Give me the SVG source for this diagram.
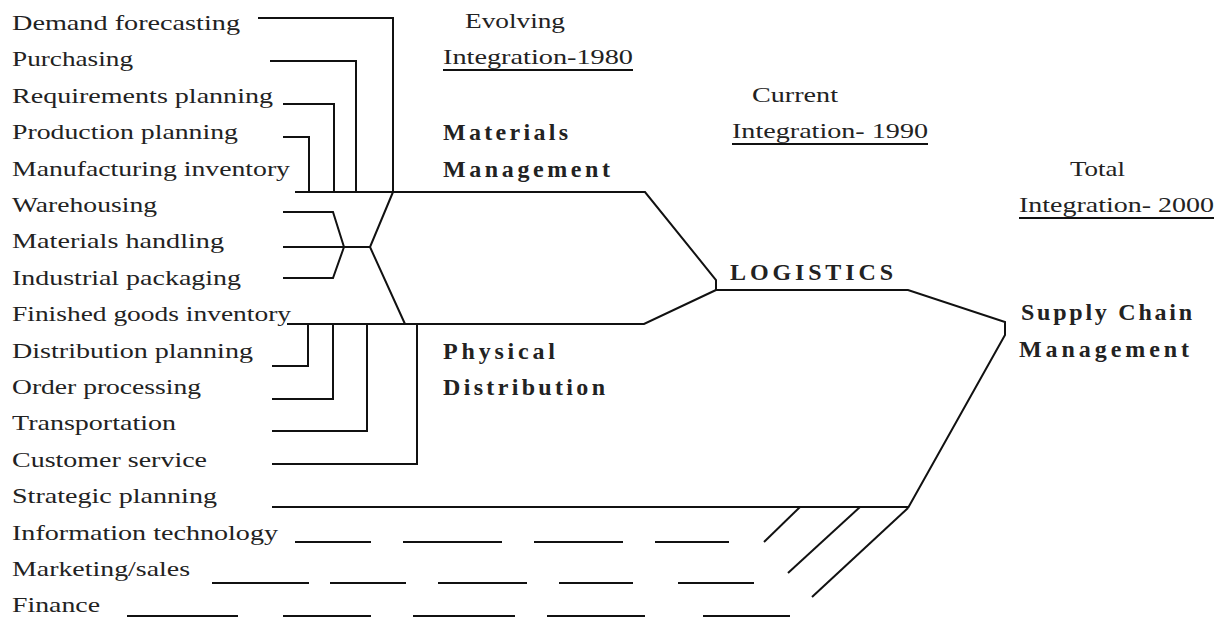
<svg xmlns="http://www.w3.org/2000/svg" width="1226" height="618" viewBox="0 0 1226 618">
<style>
.t{font-family:"Liberation Serif","Times New Roman",serif;font-size:21px;fill:#222}
.b{font-family:"Liberation Serif","Times New Roman",serif;font-size:24px;font-weight:bold;fill:#222}
.c{fill:none;stroke:#111;stroke-width:2}
</style>
<rect width="1226" height="618" fill="#fff"/>
<g id="labels">
<text class="t" x="12" y="30" textLength="228" lengthAdjust="spacingAndGlyphs">Demand forecasting</text>
<text class="t" x="12" y="66.4" textLength="121" lengthAdjust="spacingAndGlyphs">Purchasing</text>
<text class="t" x="12" y="102.8" textLength="261" lengthAdjust="spacingAndGlyphs">Requirements planning</text>
<text class="t" x="12" y="139.2" textLength="226" lengthAdjust="spacingAndGlyphs">Production planning</text>
<text class="t" x="12" y="175.6" textLength="278" lengthAdjust="spacingAndGlyphs">Manufacturing inventory</text>
<text class="t" x="12" y="212" textLength="145" lengthAdjust="spacingAndGlyphs">Warehousing</text>
<text class="t" x="12" y="248.4" textLength="212" lengthAdjust="spacingAndGlyphs">Materials handling</text>
<text class="t" x="12" y="284.8" textLength="229" lengthAdjust="spacingAndGlyphs">Industrial packaging</text>
<text class="t" x="12" y="321.2" textLength="279" lengthAdjust="spacingAndGlyphs">Finished goods inventory</text>
<text class="t" x="12" y="357.6" textLength="241" lengthAdjust="spacingAndGlyphs">Distribution planning</text>
<text class="t" x="12" y="394" textLength="189" lengthAdjust="spacingAndGlyphs">Order processing</text>
<text class="t" x="12" y="430.4" textLength="164" lengthAdjust="spacingAndGlyphs">Transportation</text>
<text class="t" x="12" y="466.8" textLength="195" lengthAdjust="spacingAndGlyphs">Customer service</text>
<text class="t" x="12" y="503.2" textLength="205" lengthAdjust="spacingAndGlyphs">Strategic planning</text>
<text class="t" x="12" y="539.6" textLength="266" lengthAdjust="spacingAndGlyphs">Information technology</text>
<text class="t" x="12" y="576" textLength="178" lengthAdjust="spacingAndGlyphs">Marketing/sales</text>
<text class="t" x="12" y="612.4" textLength="88" lengthAdjust="spacingAndGlyphs">Finance</text>
</g>
<g id="eras">
<text class="t" x="465" y="28" textLength="100" lengthAdjust="spacingAndGlyphs">Evolving</text>
<text class="t" x="443" y="64" textLength="190" lengthAdjust="spacingAndGlyphs">Integration-1980</text>
<line class="c" x1="443" y1="70" x2="633" y2="70" stroke-width="1.5"/>
<text class="t" x="752" y="102" textLength="86" lengthAdjust="spacingAndGlyphs">Current</text>
<text class="t" x="732" y="138" textLength="196" lengthAdjust="spacingAndGlyphs">Integration- 1990</text>
<line class="c" x1="732" y1="144" x2="928" y2="144" stroke-width="1.5"/>
<text class="t" x="1070" y="176" textLength="55" lengthAdjust="spacingAndGlyphs">Total</text>
<text class="t" x="1019" y="212" textLength="195" lengthAdjust="spacingAndGlyphs">Integration- 2000</text>
<line class="c" x1="1019" y1="218" x2="1214" y2="218" stroke-width="1.5"/>
</g>
<g id="materials-management">
<text class="b" x="443" y="140" textLength="125" lengthAdjust="spacing">Materials</text>
<text class="b" x="443" y="177" textLength="167" lengthAdjust="spacing">Management</text>
</g>
<g id="physical-distribution">
<text class="b" x="443" y="359" textLength="112" lengthAdjust="spacing">Physical</text>
<text class="b" x="443" y="395" textLength="162" lengthAdjust="spacing">Distribution</text>
</g>
<g id="logistics">
<text class="b" x="730" y="280" textLength="163" lengthAdjust="spacing">LOGISTICS</text>
</g>
<g id="supply-chain-management">
<text class="b" x="1021" y="320" textLength="171" lengthAdjust="spacing">Supply Chain</text>
<text class="b" x="1019" y="357" textLength="170" lengthAdjust="spacing">Management</text>
</g>
<g id="connectors" class="c">
<polyline points="258,18 393,18 393,192"/>
<polyline points="270,61 356,61 356,192"/>
<polyline points="283,104 334,104 334,192"/>
<polyline points="283,137 309,137 309,192"/>
<polyline points="295,192 645,192 716,280 716,290 908,290 1005,322 1005,335 908,508"/>
<polyline points="287,324 644,324 716,290"/>
<polyline points="393,192 370,247 405,324"/>
<polyline points="283,212 333,212 344,247 333,278 283,278"/>
<line x1="283" y1="247" x2="370" y2="247"/>
<polyline points="272,366 308,366 308,324"/>
<polyline points="272,399 333,399 333,324"/>
<polyline points="272,431 367,431 367,324"/>
<polyline points="272,464 417,464 417,324"/>
<line x1="272" y1="507" x2="908" y2="507"/>
<line x1="800" y1="507" x2="764" y2="542"/>
<line x1="860" y1="507" x2="788" y2="573"/>
<line x1="908" y1="508" x2="812" y2="597"/>
<path d="M295 542H371M403 542H502M534 542H623M655 542H729"/>
<path d="M212 583H309M330 583H406M438 583H527M559 583H633M678 583H754"/>
<path d="M127 616H238M283 616H371M413 616H515M547 616H645M703 616H790"/>
</g>
</svg>
